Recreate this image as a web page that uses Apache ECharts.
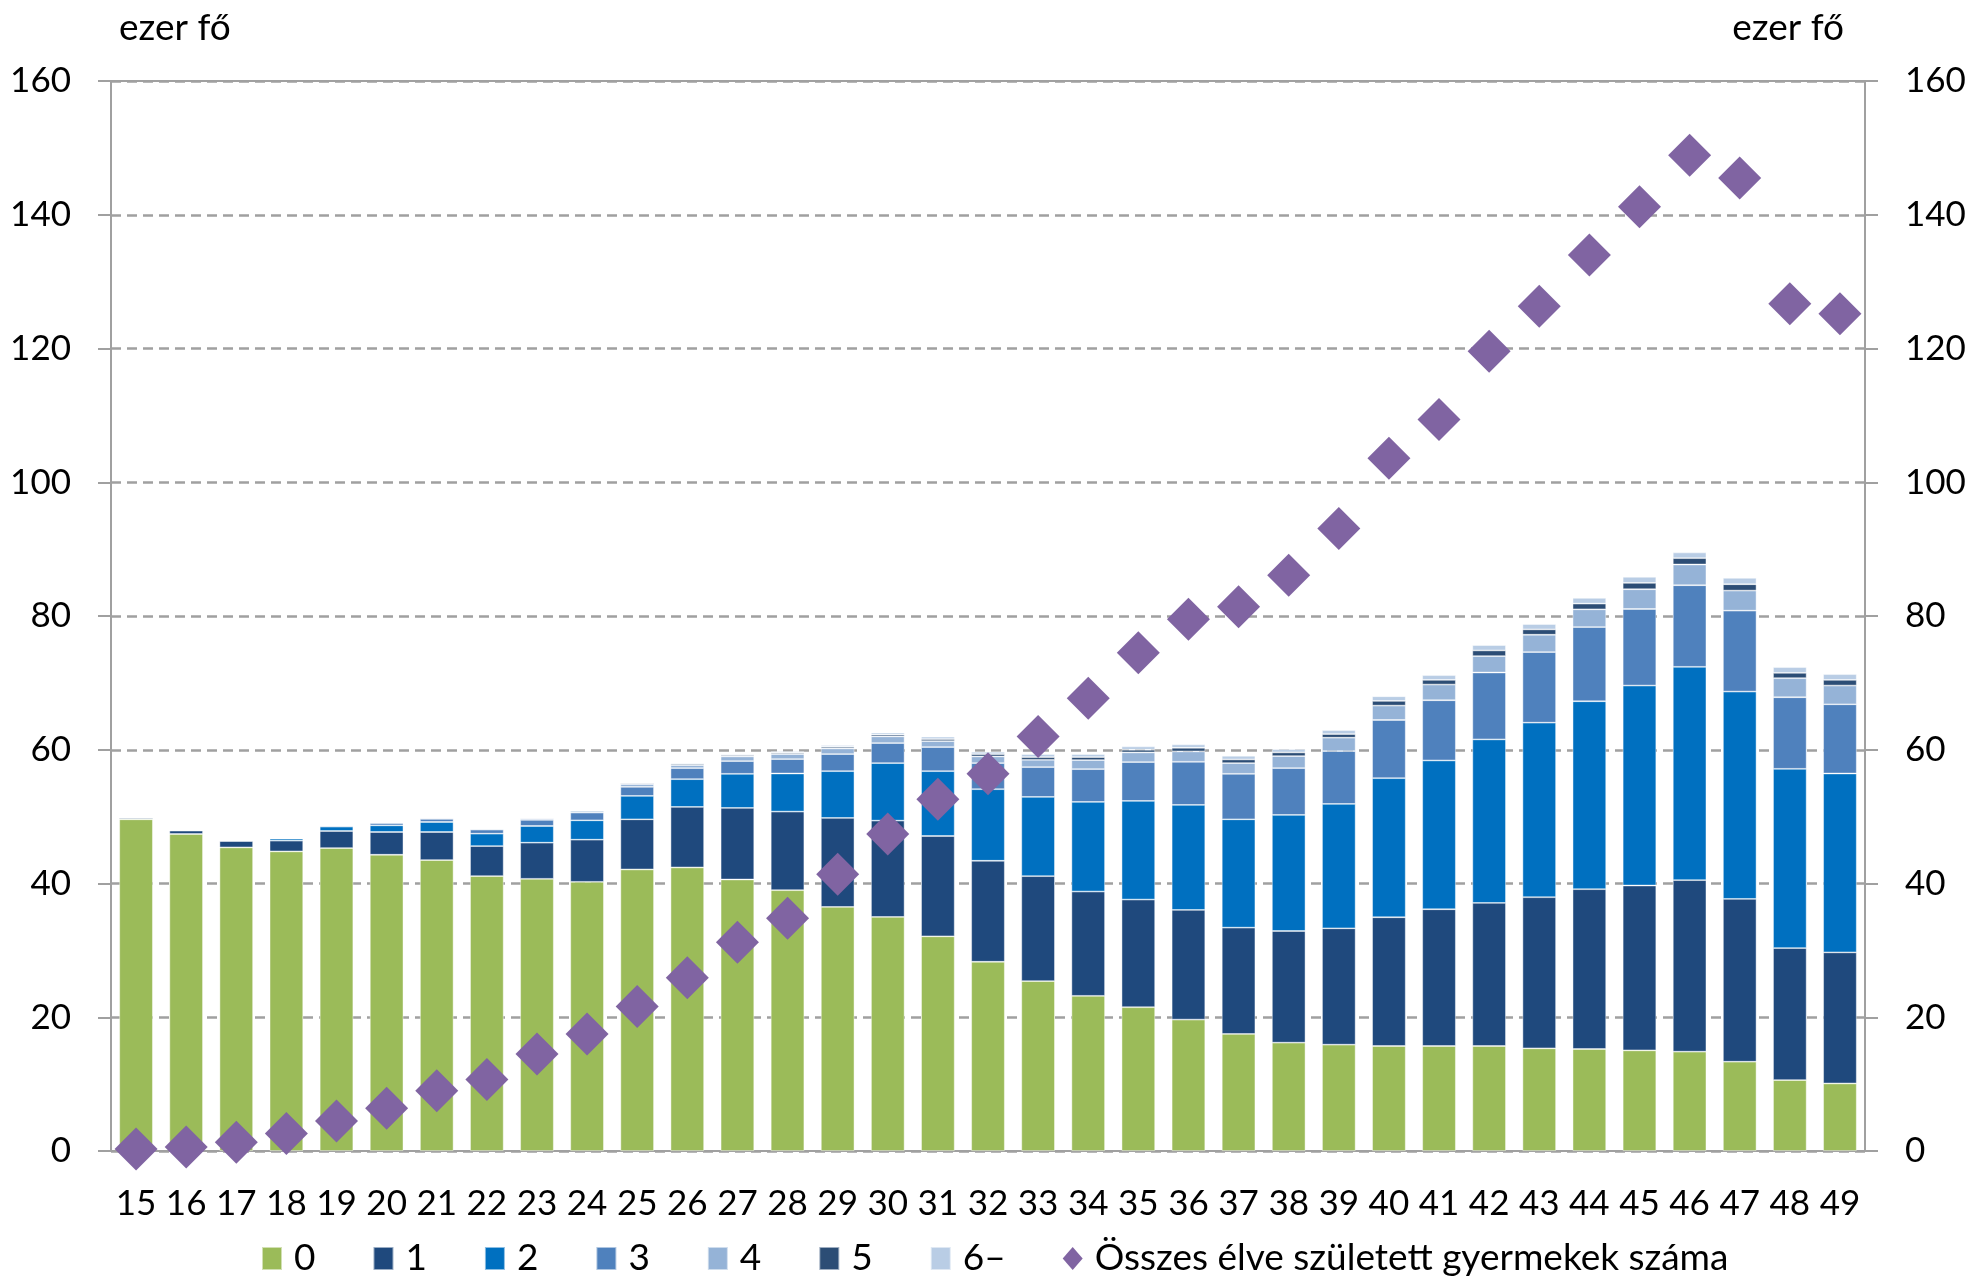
<!DOCTYPE html>
<html>
<head>
<meta charset="utf-8">
<script src="https://cdn.jsdelivr.net/npm/echarts@6/dist/echarts.min.js"></script>
<style>
    html, body { margin: 0; padding: 0; background: #fff; }
    #chart { width: 1977px; height: 1286px; }
</style>
</head>
<body>
<div id="chart"></div>
<script>
/*
    data
        ages (categories)
        children_0 .. children_6 : women by number of live-born children (ezer fő)
        total_born : all live-born children (ezer fő)
*/
const ages = ['15','16','17','18','19','20','21','22','23','24','25','26','27','28','29','30','31','32',
    '33','34','35','36','37','38','39','40','41','42','43','44','45','46','47','48','49'];

const children_0 = [49.6,47.4,45.4,44.8,45.3,44.3,43.5,41.1,40.7,40.25,42.1,42.4,40.6,39.0,36.5,35.0,32.1,28.3,
    25.4,23.2,21.5,19.65,17.5,16.2,15.9,15.7,15.7,15.7,15.35,15.25,15.05,14.85,13.35,10.6,10.1];
const children_1 = [0.2,0.5,0.95,1.6,2.55,3.4,4.2,4.5,5.4,6.3,7.5,9.05,10.7,11.75,13.3,14.4,15.0,15.1,
    15.7,15.6,16.1,16.4,15.9,16.7,17.4,19.25,20.45,21.4,22.6,23.9,24.65,25.65,24.35,19.75,19.6];
const children_2 = [0.05,0.1,0.1,0.3,0.65,1.0,1.5,1.85,2.5,2.9,3.5,4.15,5.1,5.7,7.0,8.6,9.7,10.7,
    11.85,13.4,14.75,15.7,16.2,17.35,18.6,20.8,22.25,24.45,26.1,28.1,29.9,31.9,31.0,26.8,26.75];
const children_3 = [0,0,0.02,0.1,0.15,0.35,0.45,0.6,0.9,1.15,1.35,1.65,1.9,2.15,2.55,3.0,3.6,3.9,
    4.45,4.9,5.8,6.45,6.8,7.0,7.9,8.7,9.0,10.0,10.55,11.1,11.45,12.2,12.1,10.7,10.35];
const children_4 = [0,0,0,0,0.05,0.1,0.15,0.15,0.25,0.25,0.4,0.45,0.7,0.75,0.85,1.0,0.9,1.0,
    1.1,1.35,1.45,1.55,1.6,1.8,2.0,2.15,2.35,2.45,2.6,2.65,2.95,3.1,3.0,2.85,2.8];
const children_5 = [0,0,0,0,0,0.02,0.05,0.05,0.05,0.1,0.15,0.2,0.2,0.2,0.25,0.25,0.3,0.35,
    0.4,0.45,0.4,0.55,0.55,0.55,0.55,0.7,0.7,0.85,0.8,0.85,0.95,0.95,0.95,0.8,0.85];
const children_6 = [0,0,0,0,0,0.02,0.05,0.05,0.05,0.1,0.1,0.15,0.15,0.2,0.25,0.3,0.35,0.35,
    0.45,0.45,0.5,0.5,0.55,0.5,0.6,0.7,0.7,0.8,0.8,0.85,0.9,0.85,0.95,0.85,0.85];
const total_born = [0.3,0.6,1.3,2.6,4.5,6.4,9.0,10.7,14.5,17.5,21.6,25.9,31.2,34.8,41.4,47.4,52.6,56.4,
    62.0,67.7,74.5,79.5,81.4,86.1,93.1,103.6,109.4,119.6,126.3,134.0,141.2,148.9,145.5,126.7,125.2];

const y_ticks = [0, 160, 20];   // min, max, interval
const unit_label = 'ezer fő';

const bar_names = ['0','1','2','3','4','5','6–'];
const bar_data = [children_0, children_1, children_2, children_3, children_4, children_5, children_6];
const bar_colors = ['#9BBB59','#1F497D','#0070C0','#4F81BD','#95B3D7','#2C4D75','#B9CDE5'];
const total_name = 'Összes élve született gyermekek száma';

const font = 'Lato, "Open Sans", sans-serif';
const grey = '#A0A0A0';

function fnc_y_axis(position, grid_lines){
    return {
        type: 'value',
        position: position,
        min: y_ticks[0],
        max: y_ticks[1],
        interval: y_ticks[2],
        axisLine: {show: true, lineStyle: {color: grey, width: 2}},
        axisTick: {show: true, length: 13, lineStyle: {color: grey, width: 2}},
        axisLabel: {color: '#000', fontFamily: font, fontSize: 35, margin: 40},
        splitLine: {show: grid_lines, lineStyle: {color: grey, width: 2.5, type: [10, 6]}}
    };
}

let series = [];
for(let i in bar_names){
    series.push({
        name: bar_names[i],
        type: 'bar',
        stack: 'children',
        barCategoryGap: '33%',
        itemStyle: {color: bar_colors[i], borderColor: 'rgba(255,255,255,0.55)', borderWidth: 0.8},
        data: bar_data[i]
    });
}
series.push({
    name: total_name,
    type: 'scatter',
    yAxisIndex: 1,
    symbol: 'diamond',
    symbolSize: 43,
    z: 5,
    itemStyle: {color: '#8064A2', opacity: 1},
    data: total_born
});

let options = {
    animation: false,
    backgroundColor: '#fff',
    title: [
        {text: unit_label, left: 114, top: 5, textStyle: {fontFamily: font, fontSize: 37, fontWeight: 'normal', color: '#000'}},
        {text: unit_label, right: 128, top: 5, textStyle: {fontFamily: font, fontSize: 37, fontWeight: 'normal', color: '#000'}}
    ],
    grid: {left: 111, right: 112, top: 81, bottom: 135, show: true, borderColor: grey, borderWidth: 2},
    legend: {
        left: 256,
        top: 1235,
        itemWidth: 20,
        itemHeight: 23,
        itemGap: 57,
        textStyle: {fontFamily: font, fontSize: 37, color: '#000', padding: [0, 0, 0, 7]},
        data: bar_names.map(function(n){ return {name: n, icon: 'rect'}; }).concat([{name: total_name, icon: 'diamond'}])
    },
    xAxis: {
        type: 'category',
        data: ages,
        axisLine: {show: true, lineStyle: {color: grey, width: 2}},
        axisTick: {show: false},
        axisLabel: {color: '#000', fontFamily: font, fontSize: 35, margin: 35, interval: 0}
    },
    yAxis: [fnc_y_axis('left', true), fnc_y_axis('right', false)],
    series: series
};

let chart = echarts.init(document.getElementById('chart'), null, {renderer: 'canvas'});
chart.setOption(options);
</script>
</body>
</html>
